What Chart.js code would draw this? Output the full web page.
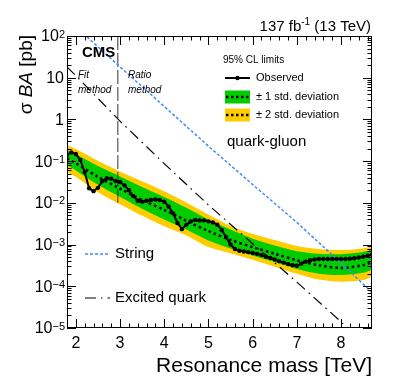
<!DOCTYPE html>
<html><head><meta charset="utf-8">
<script src="https://cdn.jsdelivr.net/npm/chart.js@4.4.1/dist/chart.umd.min.js"></script>
<style>html,body{margin:0;padding:0;background:#fff;overflow:hidden}</style>
</head><body>
<canvas id="c" width="399" height="387" style="width:399px;height:387px;display:block"></canvas>
<script>
// ---------------- data ----------------
const massObs = [1.8,1.9,2.0,2.1,2.2,2.3,2.4,2.5,2.6,2.7,2.8,2.9,3.0,3.1,3.2,3.3,3.4,3.5,3.6,3.7,3.8,3.9,4.0,4.1,4.2,4.3,4.4,4.5,4.6,4.7,4.8,4.9,5.0,5.1,5.2,5.3,5.4,5.5,5.6,5.7,5.8,5.9,6.0,6.1,6.2,6.3,6.4,6.5,6.6,6.7,6.8,6.9,7.0,7.1,7.2,7.3,7.4,7.5,7.6,7.7,7.8,7.9,8.0,8.1,8.2,8.3,8.4,8.5,8.6,8.7];
const observed = [0.141,0.162,0.148,0.107,0.055,0.0224,0.0191,0.0229,0.0331,0.0389,0.0380,0.0331,0.0316,0.0263,0.0200,0.0145,0.0112,0.0107,0.0112,0.0117,0.0120,0.0117,0.0107,0.0081,0.0056,0.0033,0.00234,0.0030,0.0036,0.0039,0.0038,0.0038,0.0036,0.0034,0.0030,0.00224,0.00151,0.00100,0.00078,0.00071,0.00068,0.00066,0.00063,0.00060,0.00056,0.00051,0.00048,0.00044,0.00040,0.00037,0.00034,0.00032,0.00031,0.00035,0.00039,0.00042,0.00044,0.00045,0.00045,0.00045,0.00045,0.00045,0.00045,0.00045,0.00046,0.00047,0.00049,0.00051,0.00054,0.00058];

const massExp  = [1.8,2.0,2.5,3.0,3.5,4.0,4.5,5.0,5.5,6.0,6.5,7.0,7.5,8.0,8.5,8.7];
const expected = [0.117,0.089,0.042,0.022,0.0117,0.0068,0.0037,0.0021,0.00129,0.00087,0.00060,0.00042,0.00032,0.000275,0.00032,0.00038];
const plus1sd  = [0.186,0.148,0.076,0.043,0.024,0.0138,0.0076,0.0040,0.00229,0.00138,0.00095,0.00069,0.00060,0.00059,0.00066,0.00076];
const minus1sd = [0.081,0.060,0.027,0.0138,0.0072,0.0040,0.0023,0.00126,0.00081,0.00055,0.00038,0.00026,0.00020,0.000186,0.00021,0.00025];
const plus2sd  = [0.245,0.195,0.102,0.056,0.033,0.019,0.0102,0.0052,0.0028,0.0018,0.00129,0.00093,0.00078,0.00074,0.00081,0.00091];
const minus2sd = [0.056,0.042,0.018,0.0093,0.0049,0.00275,0.00166,0.00087,0.00062,0.00043,0.000295,0.00020,0.000145,0.000129,0.000141,0.00017];

const massString = [2.0,3.0,4.0,5.0,6.0,7.0,8.0,8.7];
const stringXS   = [166,18.2,2.04,0.229,0.0275,0.0034,0.00036,0.000071];

const massQstar = [1.8,2.0,3.0,4.0,5.0,6.0,7.0,8.0,8.3];
const qstarXS   = [18.2,11.2,0.91,0.087,0.0089,0.00105,0.000126,0.0000141,0.0000063];

const methodBoundaryMass = [2.95,2.95];
const methodBoundaryXS   = [100,0.01];

const xTickValues = [2,3,4,5,6,7,8];
const yTickExponents = [2,1,0,-1,-2,-3,-4,-5];

// ---------------- helpers ----------------
const pts = (xs, ys) => xs.map((v, i) => ({x: v, y: ys[i]}));
const FONT = '"Liberation Sans", Arial, Helvetica, sans-serif';
const YELLOW = '#ffcc00', GREEN = '#00cc00', BLUE = '#3d8bff';

const deco = {
  id: 'deco',
  afterDatasetsDraw(chart) {
    const {ctx, chartArea: a, scales: {x, y}} = chart;
    ctx.save();
    ctx.strokeStyle = '#000';
    ctx.lineWidth = 1;
    // frame
    ctx.strokeRect(a.left + 0.5, a.top + 0.5, a.right - a.left - 1, a.bottom - a.top - 1);
    // x ticks (bottom and top)
    ctx.beginPath();
    for (let k = 9; k <= 43; k++) {
      const v = k * 0.2;
      const px = Math.round(x.getPixelForValue(v)) + 0.5;
      const major = Math.abs(v - Math.round(v)) < 1e-6;
      const L = major ? 9 : 4.5;
      ctx.moveTo(px, a.bottom); ctx.lineTo(px, a.bottom - L);
      ctx.moveTo(px, a.top); ctx.lineTo(px, a.top + L);
    }
    // y ticks (left and right)
    for (let e = -5; e <= 2; e++) {
      for (let m = 1; m <= 9; m++) {
        const v = m * Math.pow(10, e);
        if (v > 100.0001) continue;
        const py = Math.round(y.getPixelForValue(v)) + 0.5;
        const L = m === 1 ? 9 : 4.5;
        ctx.moveTo(a.left, py); ctx.lineTo(a.left + L, py);
        ctx.moveTo(a.right, py); ctx.lineTo(a.right - L, py);
      }
    }
    ctx.stroke();

    // y tick labels with exponents
    ctx.fillStyle = '#000';
    for (const e of yTickExponents) {
      const py = y.getPixelForValue(Math.pow(10, e));
      const right = 65;
      ctx.textBaseline = 'middle';
      if (e === 0 || e === 1) {
        ctx.font = '16px ' + FONT; ctx.textAlign = 'right';
        ctx.fillText(e === 0 ? '1' : '10', right - 1, py + 1);
      } else {
        const exp = e < 0 ? '\u2212' + (-e) : String(e);
        ctx.font = '11px ' + FONT; ctx.textAlign = 'right';
        const ew = ctx.measureText(exp).width;
        ctx.textBaseline = 'top';
        ctx.fillText(exp, right, py - 7);
        ctx.font = '16px ' + FONT; ctx.textBaseline = 'middle';
        ctx.fillText('10', right - ew, py + 1);
      }
    }

    // y axis title: σ BA [pb] (rotated)
    ctx.save();
    ctx.translate(27, 35);
    ctx.rotate(-Math.PI / 2);
    ctx.textBaseline = 'middle';
    ctx.textAlign = 'left';
    const parts = [['\u03c3 ', '19px ' + FONT], ['BA', 'italic 19px ' + FONT], [' [pb]', '19px ' + FONT]];
    let tw = 0;
    for (const [t, f] of parts) { ctx.font = f; tw += ctx.measureText(t).width; }
    let cx = -tw;
    for (const [t, f] of parts) { ctx.font = f; ctx.fillText(t, cx, 0); cx += ctx.measureText(t).width; }
    ctx.restore();

    // top-right luminosity label
    ctx.textBaseline = 'alphabetic';
    ctx.textAlign = 'left';
    ctx.font = '15px ' + FONT;
    const t1 = '137 fb', t3 = ' (13 TeV)';
    const w1 = ctx.measureText(t1).width, w3 = ctx.measureText(t3).width;
    ctx.font = '10px ' + FONT;
    const t2 = '-1', w2 = ctx.measureText(t2).width;
    let lx = 371 - (w1 + w2 + w3);
    ctx.font = '15px ' + FONT; ctx.fillText(t1, lx, 31);
    ctx.font = '10px ' + FONT; ctx.fillText(t2, lx + w1, 25);
    ctx.font = '15px ' + FONT; ctx.fillText(t3, lx + w1 + w2, 31);

    // CMS and method labels
    ctx.font = 'bold 15px ' + FONT;
    ctx.fillText('CMS', 82, 57);
    ctx.font = 'italic 10px ' + FONT;
    ctx.fillText('Fit', 78, 78);
    ctx.fillText('method', 78, 93);
    ctx.fillText('Ratio', 128, 78);
    ctx.fillText('method', 128, 93);

    // legend (top right)
    ctx.textBaseline = 'middle';
    ctx.font = '10px ' + FONT;
    ctx.fillText('95% CL limits', 223, 60);
    ctx.font = '11px ' + FONT;
    // observed
    ctx.strokeStyle = '#000'; ctx.lineWidth = 2; ctx.setLineDash([]);
    ctx.beginPath(); ctx.moveTo(225, 78); ctx.lineTo(250, 78); ctx.stroke();
    ctx.beginPath(); ctx.arc(237.5, 78, 2.2, 0, Math.PI * 2); ctx.fill();
    ctx.fillText('Observed', 256, 78);
    // 1 sd
    ctx.fillStyle = GREEN; ctx.fillRect(225, 90.5, 25, 13);
    ctx.fillStyle = YELLOW; ctx.fillRect(225, 108.5, 25, 13);
    ctx.strokeStyle = '#000'; ctx.lineWidth = 2.5; ctx.setLineDash([2.5, 2.5]);
    ctx.beginPath(); ctx.moveTo(226, 97); ctx.lineTo(250, 97); ctx.moveTo(226, 115); ctx.lineTo(250, 115); ctx.stroke();
    ctx.setLineDash([]);
    ctx.fillStyle = '#000';
    ctx.fillText('\u00b1 1 std. deviation', 256, 97);
    ctx.fillText('\u00b1 2 std. deviation', 256, 115);

    // quark-gluon
    ctx.font = '15px ' + FONT;
    ctx.fillText('quark-gluon', 227, 142);

    // bottom-left legend
    ctx.strokeStyle = BLUE; ctx.lineWidth = 1.5; ctx.setLineDash([3, 2]);
    ctx.beginPath(); ctx.moveTo(85, 254); ctx.lineTo(110, 254); ctx.stroke();
    ctx.fillText('String', 115, 254);
    ctx.strokeStyle = '#000'; ctx.lineWidth = 1.2; ctx.setLineDash([11, 5, 1.5, 5]);
    ctx.beginPath(); ctx.moveTo(85, 298); ctx.lineTo(110, 298); ctx.stroke();
    ctx.setLineDash([]);
    ctx.fillText('Excited quark', 115, 298);
    ctx.restore();
  }
};

new Chart(document.getElementById('c'), {
  type: 'line',
  data: {
    datasets: [
      {label: '+2 std. deviation', data: pts(massExp, plus2sd), borderWidth: 0, pointRadius: 0, backgroundColor: YELLOW, fill: '+1', order: 20, tension: 0.3},
      {label: '-2 std. deviation', data: pts(massExp, minus2sd), borderWidth: 0, pointRadius: 0, fill: false, order: 19, tension: 0.3},
      {label: '+1 std. deviation', data: pts(massExp, plus1sd), borderWidth: 0, pointRadius: 0, backgroundColor: GREEN, fill: '+1', order: 18, tension: 0.3},
      {label: '-1 std. deviation', data: pts(massExp, minus1sd), borderWidth: 0, pointRadius: 0, fill: false, order: 17, tension: 0.3},
      {label: 'Expected', data: pts(massExp, expected), borderColor: '#000', borderWidth: 2.5, borderDash: [2.5, 3], pointRadius: 0, fill: false, order: 6, tension: 0.3},
      {label: 'Excited quark', data: pts(massQstar, qstarXS), borderColor: '#000', borderWidth: 1.2, borderDash: [11, 5, 1.5, 5], pointRadius: 0, fill: false, order: 4},
      {label: 'String', data: pts(massString, stringXS), borderColor: BLUE, borderWidth: 1.5, borderDash: [3, 2], pointRadius: 0, fill: false, order: 3},
      {label: 'Method boundary', data: pts(methodBoundaryMass, methodBoundaryXS), borderColor: '#333', borderWidth: 1, borderDash: [14, 3], pointRadius: 0, fill: false, order: 5},
      {label: 'Observed', data: pts(massObs, observed), borderColor: '#000', backgroundColor: '#000', borderWidth: 2, pointRadius: 2.2, pointBorderWidth: 0, pointBackgroundColor: '#000', fill: false, order: 1}
    ]
  },
  options: {
    responsive: false,
    animation: false,
    devicePixelRatio: 1,
    layout: {padding: {left: 0, top: 36, right: 27, bottom: 0}},
    plugins: {legend: {display: false}, tooltip: {enabled: false}},
    scales: {
      x: {
        type: 'linear', min: 1.8, max: 8.7,
        afterBuildTicks: s => { s.ticks = xTickValues.map(v => ({value: v})); },
        afterFit: s => { s.height = 59; },
        grid: {display: false, drawTicks: false},
        border: {display: false},
        ticks: {color: '#000', font: {family: FONT, size: 16}, padding: 6, maxRotation: 0, autoSkip: false},
        title: {display: true, text: 'Resonance mass [TeV]', align: 'end', color: '#000', font: {family: FONT, size: 21}, padding: {top: 0, bottom: 8}}
      },
      y: {
        type: 'logarithmic', min: 1e-5, max: 100,
        afterFit: s => { s.width = 67; },
        grid: {display: false, drawTicks: false},
        border: {display: false},
        ticks: {display: false}
      }
    }
  },
  plugins: [deco]
});
</script>
</body></html>
